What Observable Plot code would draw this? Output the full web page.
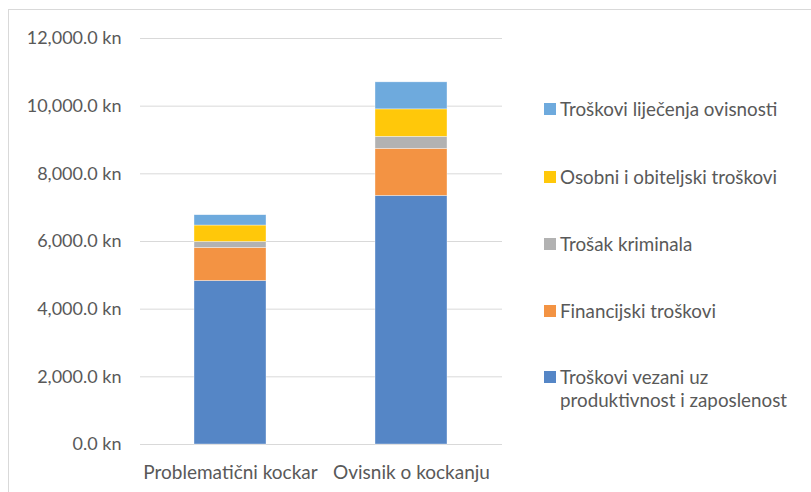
<!DOCTYPE html>
<html>
<head>
<meta charset="utf-8">
<script src="https://cdn.jsdelivr.net/npm/d3@7"></script>
<script src="https://cdn.jsdelivr.net/npm/@observablehq/plot@0.6"></script>
<style>
  html, body { margin: 0; padding: 0; background: #fff; overflow: hidden; }
  #wrap { position: relative; width: 811px; height: 492px; font-family: Lato, "Open Sans", sans-serif; color: #595959; }
  #frame { position: absolute; left: 8px; top: 9px; width: 820px; height: 500px; border: 1px solid #d9d9d9; box-sizing: border-box; }
  #chart { position: absolute; left: 0; top: 0; }
  #legend { position: absolute; left: 544px; top: 0; font-size: 18.8px; }
  .item { position: absolute; left: 0; white-space: nowrap; line-height: 23px; }
  .sw { position: absolute; left: 0; top: 6px; width: 12px; height: 12px; }
  .lbl { position: absolute; left: 16px; top: 0; }
</style>
</head>
<body>
<div id="wrap"><div id="frame"></div><div id="chart"></div><div id="legend"></div></div>
<script>
const categories = ["Problematični kockar", "Ovisnik o kockanju"];
const series = [
  "Troškovi vezani uz produktivnost i zaposlenost",
  "Financijski troškovi",
  "Trošak kriminala",
  "Osobni i obiteljski troškovi",
  "Troškovi liječenja ovisnosti"
];
const productivity = [4833, 7348];
const financial = [977, 1391];
const crime = [177, 355];
const personal = [485, 811];
const treatment = [305, 799];
const colors = ["#5586C6", "#F39343", "#B2B2B2", "#FFC80A", "#6EAADD"];
const yTicks = [0, 2000, 4000, 6000, 8000, 10000, 12000];

const valuesBySeries = [productivity, financial, crime, personal, treatment];
const table = [];
series.forEach((s, i) => categories.forEach((c, j) => table.push({category: c, series: s, value: valuesBySeries[i][j]})));

const fmt = d => d3.format(",.1f")(d) + " kn";

const plot = Plot.plot({
  width: 811,
  height: 492,
  marginLeft: 140,
  marginRight: 309,
  marginTop: 38,
  marginBottom: 48,
  style: {fontFamily: "Lato, 'Open Sans', sans-serif", fontSize: "18px", color: "#595959", background: "transparent"},
  x: {domain: categories, paddingInner: 0.6, paddingOuter: 0.3, label: null},
  y: {domain: [0, 12000], ticks: yTicks, label: null},
  color: {domain: series, range: colors},
  marks: [
    Plot.ruleY(yTicks, {stroke: "#d9d9d9", strokeWidth: 1}),
    Plot.barY(table, {x: "category", y: "value", fill: "series", stroke: "#ffffff", strokeWidth: 0.6, strokeOpacity: 0.6}),
    Plot.axisY({ticks: yTicks, tickFormat: fmt, tickSize: 0, tickPadding: 19, fill: "#595959", label: null}),
    Plot.axisX({tickSize: 0, tickPadding: 21, fontSize: 19, fill: "#595959", label: null})
  ]
});
document.getElementById("chart").appendChild(plot);

// legend (top to bottom = reverse stacking order)
const legendTops = [97, 165, 232, 299, 365];
const legend = d3.select("#legend");
series.slice().reverse().forEach((s, k) => {
  const idx = series.length - 1 - k;
  const item = legend.append("div").attr("class", "item").style("top", legendTops[k] + "px");
  item.append("div").attr("class", "sw").style("background", colors[idx]);
  const lbl = item.append("div").attr("class", "lbl");
  if (idx === 0) {
    lbl.html("Troškovi vezani uz<br>produktivnost i zaposlenost");
  } else {
    lbl.text(s);
  }
});
</script>
</body>
</html>
